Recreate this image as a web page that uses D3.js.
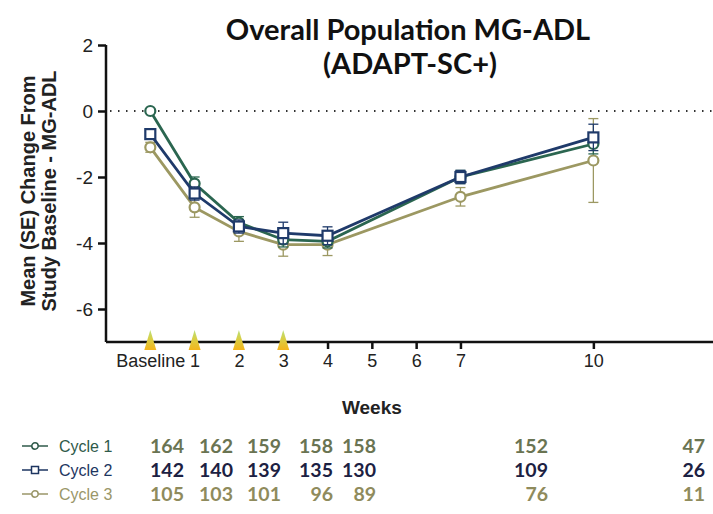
<!DOCTYPE html>
<html>
<head>
<meta charset="utf-8">
<script src="https://cdn.jsdelivr.net/npm/d3@7"></script>
<style>
  body { margin: 0; background: #fff; }
  svg { display: block; }
</style>
</head>
<body>
<div id="chart"></div>
<script>
// weeks on the x axis (0 = Baseline)
const weeks = [0, 1, 2, 3, 4, 7, 10];
const tickWeeks = [0, 1, 2, 3, 4, 5, 6, 7, 10];
const tickLabels = ["Baseline", "1", "2", "3", "4", "5", "6", "7", "10"];
const dosingWeeks = [0, 1, 2, 3];
const yTicks = [2, 0, -2, -4, -6];

const seriesNames = ["Cycle 1", "Cycle 2", "Cycle 3"];
const cycle1Mean = [0, -2.2, -3.38, -3.9, -3.95, -2.0, -1.0];
const cycle1SE = [0.05, 0.2, 0.18, 0.22, 0.2, 0.2, 0.3];
const cycle2Mean = [-0.7, -2.5, -3.5, -3.7, -3.78, -2.0, -0.8];
const cycle2SE = [0.1, 0.2, 0.2, 0.33, 0.27, 0.2, 0.4];
const cycle3Mean = [-1.1, -2.92, -3.65, -4.05, -4.05, -2.6, -1.5];
const cycle3SE = [0.15, 0.3, 0.3, 0.35, 0.33, 0.28, 1.27];

// number of patients at each visit
const cycle1N = [164, 162, 159, 158, 158, 152, 47];
const cycle2N = [142, 140, 139, 135, 130, 109, 26];
const cycle3N = [105, 103, 101, 96, 89, 76, 11];

const W = 713, H = 514;
const svg = d3.select("#chart").append("svg").attr("width", W).attr("height", H);

const x = d3.scaleLinear().domain([-1, 12.7]).range([106, 713]);
const y = d3.scaleLinear().domain([-7, 2]).range([342, 45]);

const lineColors = ["#2b6650", "#1f3a6a", "#9c9862"];
const nColors = ["#6a7452", "#1c2142", "#8f8b5c"];
const legendColors = ["#2f5a4a", "#1d3560", "#9a9668"];
const shapes = ["circle", "square", "circle"];

const series = [
  { name: seriesNames[0], mean: cycle1Mean, se: cycle1SE, n: cycle1N },
  { name: seriesNames[1], mean: cycle2Mean, se: cycle2SE, n: cycle2N },
  { name: seriesNames[2], mean: cycle3Mean, se: cycle3SE, n: cycle3N }
];

// title
svg.append("text")
  .attr("x", 408).attr("y", 40)
  .attr("text-anchor", "middle")
  .style("font-family", "Lato, 'Open Sans', sans-serif")
  .style("font-weight", 700).style("font-size", "29px")
  .attr("fill", "#111")
  .text("Overall Population MG-ADL");
svg.append("text")
  .attr("x", 410).attr("y", 74)
  .attr("text-anchor", "middle")
  .style("font-family", "Lato, 'Open Sans', sans-serif")
  .style("font-weight", 700).style("font-size", "29px")
  .attr("fill", "#111")
  .text("(ADAPT-SC+)");

// y axis label
const yl = svg.append("text")
  .attr("transform", "translate(0,191) rotate(-90)")
  .attr("text-anchor", "middle")
  .style("font-family", "'Liberation Sans', Arial, sans-serif")
  .style("font-weight", 700).style("font-size", "20px")
  .attr("fill", "#222");
yl.append("tspan").attr("x", 0).attr("y", 35).text("Mean (SE) Change From");
yl.append("tspan").attr("x", 0).attr("y", 56).text("Study Baseline - MG-ADL");

// axes
const yAxis = d3.axisLeft(y).tickValues(yTicks).tickSize(8).tickPadding(5)
  .tickFormat(d => d < 0 ? "-" + Math.abs(d) : d);
const gy = svg.append("g").attr("transform", `translate(${x(-1)},0)`).call(yAxis);
gy.select(".domain").attr("stroke", "#111").attr("stroke-width", 2.5)
  .attr("d", `M0,${y(2)}V${y(-7)}`);
gy.selectAll(".tick line").attr("stroke", "#111").attr("stroke-width", 2.5);
gy.selectAll(".tick text")
  .style("font-family", "'Liberation Sans', Arial, sans-serif")
  .style("font-size", "19px").attr("fill", "#222");

const xAxis = d3.axisBottom(x).tickValues(tickWeeks).tickSize(7).tickPadding(5)
  .tickFormat((d, i) => tickLabels[i]);
const gx = svg.append("g").attr("transform", `translate(0,${y(-7)})`).call(xAxis);
gx.select(".domain").attr("stroke", "#111").attr("stroke-width", 2.5)
  .attr("d", `M${x(-1)},0H${W}`);
gx.selectAll(".tick line").attr("stroke", "#111").attr("stroke-width", 2.5);
gx.selectAll(".tick text")
  .style("font-family", "'Liberation Sans', Arial, sans-serif")
  .style("font-size", "18px").attr("fill", "#222");

svg.append("text")
  .attr("x", x(5)).attr("y", 414)
  .attr("text-anchor", "middle")
  .style("font-family", "'Liberation Sans', Arial, sans-serif")
  .style("font-weight", 700).style("font-size", "19px")
  .attr("fill", "#222")
  .text("Weeks");

// dotted zero line
svg.append("line")
  .attr("x1", x(-1) + 4).attr("x2", W)
  .attr("y1", y(0)).attr("y2", y(0))
  .attr("stroke", "#333").attr("stroke-width", 2)
  .attr("stroke-dasharray", "1.5,6.5");

// dosing arrows on the x axis
const defs = svg.append("defs");
const grad = defs.append("linearGradient").attr("id", "dose")
  .attr("x1", 0).attr("x2", 0).attr("y1", 0).attr("y2", 1);
grad.append("stop").attr("offset", "0%").attr("stop-color", "#b8e07a");
grad.append("stop").attr("offset", "45%").attr("stop-color", "#d9cf45");
grad.append("stop").attr("offset", "100%").attr("stop-color", "#f3b51c");
svg.append("g").selectAll("path")
  .data(dosingWeeks)
  .join("path")
  .attr("d", d => `M${x(d)},${y(-7) - 12}L${x(d) + 6},${y(-7) + 8}L${x(d) - 6},${y(-7) + 8}Z`)
  .attr("fill", "url(#dose)");

// lines, error bars, markers
const line = d3.line().x((d, i) => x(weeks[i])).y(d => y(d));
const order = [2, 0, 1];
order.forEach(si => {
  const s = series[si];
  const c = lineColors[si];
  const g = svg.append("g");
  g.append("path").datum(s.mean)
    .attr("d", line).attr("fill", "none")
    .attr("stroke", c).attr("stroke-width", 2.8);
  const eb = g.selectAll(".eb").data(s.mean).join("g");
  eb.append("line")
    .attr("x1", (d, i) => x(weeks[i])).attr("x2", (d, i) => x(weeks[i]))
    .attr("y1", (d, i) => y(d + s.se[i])).attr("y2", (d, i) => y(d - s.se[i]))
    .attr("stroke", c).attr("stroke-width", 1.3);
  [1, -1].forEach(sg => {
    eb.append("line")
      .attr("x1", (d, i) => x(weeks[i]) - 5).attr("x2", (d, i) => x(weeks[i]) + 5)
      .attr("y1", (d, i) => y(d + sg * s.se[i])).attr("y2", (d, i) => y(d + sg * s.se[i]))
      .attr("stroke", c).attr("stroke-width", 1.3);
  });
  if (shapes[si] === "circle") {
    g.selectAll("circle").data(s.mean).join("circle")
      .attr("cx", (d, i) => x(weeks[i])).attr("cy", d => y(d))
      .attr("r", 5).attr("fill", "#fff")
      .attr("stroke", c).attr("stroke-width", 2.2);
  } else {
    g.selectAll("rect").data(s.mean).join("rect")
      .attr("x", (d, i) => x(weeks[i]) - 5).attr("y", d => y(d) - 5)
      .attr("width", 10).attr("height", 10).attr("fill", "#fff")
      .attr("stroke", c).attr("stroke-width", 2.2);
  }
});

// patient counts table
const colX = d3.scaleLinear().domain(weeks).range([184, 233, 281, 333, 376, 548, 705]);
const rowY = d3.scalePoint().domain(seriesNames).range([452, 500]);

series.forEach((s, si) => {
  const ry = rowY(s.name);
  const lg = svg.append("g").attr("transform", `translate(0,${ry - 6})`);
  lg.append("line").attr("x1", 22).attr("x2", 48).attr("y1", 0).attr("y2", 0)
    .attr("stroke", legendColors[si]).attr("stroke-width", 1.5);
  if (shapes[si] === "circle") {
    lg.append("circle").attr("cx", 35).attr("cy", 0).attr("r", 3.2)
      .attr("fill", "#fff").attr("stroke", legendColors[si]).attr("stroke-width", 1.5);
  } else {
    lg.append("rect").attr("x", 31.5).attr("y", -3.5).attr("width", 7).attr("height", 7)
      .attr("fill", "#fff").attr("stroke", legendColors[si]).attr("stroke-width", 1.5);
  }
  svg.append("text")
    .attr("x", 59).attr("y", ry)
    .style("font-family", "'Liberation Sans Narrow', 'Liberation Sans', Arial, sans-serif")
    .style("font-size", "16px")
    .attr("fill", legendColors[si])
    .text(s.name);
  svg.append("g").selectAll("text").data(s.n).join("text")
    .attr("x", (d, i) => colX(weeks[i]))
    .attr("y", ry + 1)
    .attr("text-anchor", "end")
    .style("font-family", "Lato, 'Open Sans', sans-serif")
    .style("font-weight", 700).style("font-size", "19.5px")
    .attr("fill", nColors[si])
    .text(d => d);
});
</script>
</body>
</html>
